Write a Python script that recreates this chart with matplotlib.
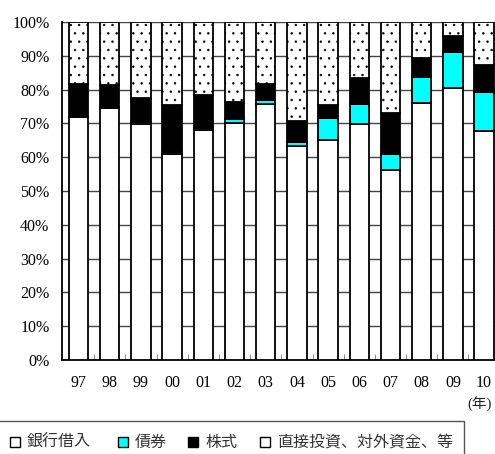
import matplotlib.pyplot as plt
from matplotlib.patches import Rectangle
import numpy as np

years = ["97", "98", "99", "00", "01", "02", "03", "04", "05", "06", "07", "08", "09", "10"]
bank = [71.8, 74.5, 69.8, 60.9, 68.1, 70.2, 75.8, 63.3, 65.0, 69.8, 56.3, 75.9, 80.5, 67.8]
bonds = [0.0, 0.0, 0.6, 0.5, 0.6, 1.1, 1.2, 1.1, 6.7, 5.9, 4.7, 7.9, 10.7, 11.6]
stocks = [9.9, 6.8, 7.1, 14.0, 9.7, 5.1, 4.8, 6.4, 3.7, 7.7, 12.1, 5.6, 4.8, 7.8]
other = [18.3, 18.7, 22.5, 24.6, 21.6, 23.6, 18.2, 29.2, 24.6, 16.6, 26.9, 10.6, 4.0, 12.8]
labels = ["銀行借入", "債券", "株式", "直接投資、対外資金、等"]

serif = ["Liberation Serif", "Noto Sans CJK JP"]
jp = ["Noto Sans CJK JP", "DejaVu Sans"]

plt.rcParams["hatch.linewidth"] = 0.5

W, H = 495, 454
fig = plt.figure(figsize=(W / 100, H / 100), dpi=100)
ax = fig.add_axes([62 / W, 94 / H, (W - 62) / W, 338 / H])

x = np.arange(len(years))
w = 0.625
bank = np.array(bank)
bonds = np.array(bonds)
stocks = np.array(stocks)
other = np.array(other)

kw = dict(width=w, edgecolor="black", linewidth=1.3, zorder=3)
ax.bar(x, bank, color="white", **kw)
ax.bar(x, bonds, bottom=bank, color="#00ffff", **kw)
ax.bar(x, stocks, bottom=bank + bonds, color="black", **kw)
ax.bar(x, other, bottom=bank + bonds + stocks, color="white", hatch="..", **kw)

ax.set_xlim(-0.53, 13.35)
ax.set_ylim(0, 100)
ax.set_yticks(np.arange(0, 101, 10))
ax.set_yticklabels([f"{v}%" for v in range(0, 101, 10)], family=serif, fontsize=11.5)
ax.set_xticks(x)
ax.set_xticklabels(years, family=serif, fontsize=11.5)
ax.set_xticks(x[:-1] + 0.5, minor=True)
ax.tick_params(axis="x", which="major", length=0, pad=11)
ax.tick_params(axis="x", which="minor", direction="in", length=4, color="#777777")
ax.tick_params(axis="y", length=0, pad=9)
ax.yaxis.grid(True, color="#444444", linewidth=1.0, zorder=0)
ax.set_axisbelow(True)
for s in ["top", "right"]:
    ax.spines[s].set_visible(False)
ax.spines["left"].set_linewidth(1.3)
ax.spines["bottom"].set_linewidth(1.3)

fig.text(492 / W, 1 - 404 / H, "(年)", family=serif, fontsize=10.5,
         ha="right", va="center", color="#222222")

# legend box along the bottom
fig.patches.append(Rectangle((-5 / W, -10 / H), 469 / W, (454 - 421 + 10) / H,
                             transform=fig.transFigure, facecolor="none",
                             edgecolor="#555555", linewidth=1.0))
items = [(10, "white"), (118, "#00ffff"), (188, "black"), (260, "white")]
for (px, fc), lab in zip(items, labels):
    fig.patches.append(Rectangle((px / W, 1 - 447 / H), 10 / W, 10 / H,
                                 transform=fig.transFigure, facecolor=fc,
                                 edgecolor="black", linewidth=1.0))
    fig.text((px + 17) / W, 1 - 442 / H, lab, family=jp, fontsize=11.5,
             ha="left", va="center", color="#333333")

fig.savefig("out.png", dpi=100)
